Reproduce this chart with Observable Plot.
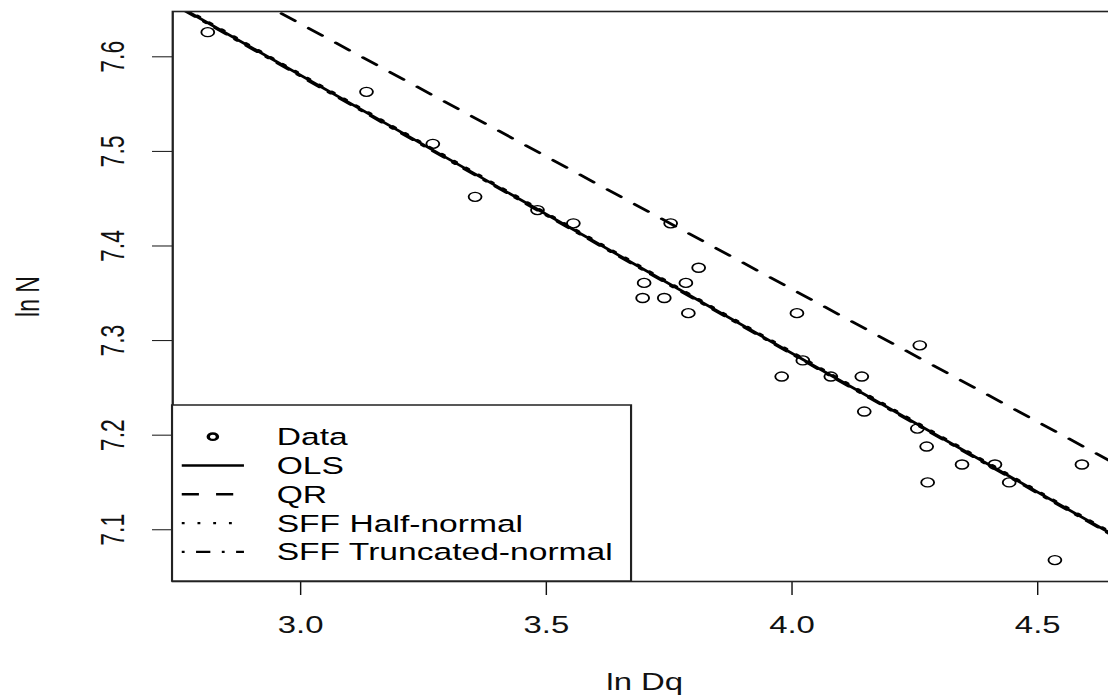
<!DOCTYPE html>
<html><head><meta charset="utf-8">
<script src="https://cdn.jsdelivr.net/npm/d3@7"></script>
<script src="https://cdn.jsdelivr.net/npm/@observablehq/plot@0.6"></script>
<style>html,body{margin:0;padding:0;overflow:hidden;background:#fff}</style>
</head><body><div id="chart"></div>
<script>
// ---- data ----
const lnDq = [2.811, 3.134, 3.269, 3.355, 3.482, 3.555, 3.753, 3.699, 3.696, 3.740, 3.784, 3.789, 3.810, 4.010,
              4.022, 3.979, 4.079, 4.142, 4.147, 4.260, 4.255, 4.274, 4.276, 4.346, 4.413, 4.442, 4.590, 4.535];
const lnN  = [7.626, 7.563, 7.508, 7.452, 7.438, 7.424, 7.424, 7.361, 7.345, 7.345, 7.361, 7.329, 7.377, 7.329,
              7.279, 7.262, 7.262, 7.262, 7.225, 7.295, 7.207, 7.188, 7.150, 7.169, 7.169, 7.150, 7.169, 7.068];
const modelNames = ["OLS", "QR", "SFF Half-normal", "SFF Truncated-normal"];
const intercepts = [8.4618, 8.4763, 8.4630, 8.4608];
const slopes     = [-0.2938, -0.2805, -0.2938, -0.2938];
const modelDash  = ["none", "12,12", "2,9", "2,8,10,8"];
const xTicks = [3.0, 3.5, 4.0, 4.5];
const yTicks = [7.1, 7.2, 7.3, 7.4, 7.5, 7.6];
const legendLabels = ["Data", "OLS", "QR", "SFF Half-normal", "SFF Truncated-normal"];

// ---- layout ----
const S = 1.43;            // horizontal stretch of the reference image
const W = 784, H = 700;
const mL = 120.3, mR = W - 780.4, mT = 11, mB = 119;
const xDomain = [2.7397, 4.6607];
const yDomain = [7.0453, 7.6479];
const FONT = "'Liberation Sans', Arial, Helvetica, sans-serif";

const points = lnDq.map((x, i) => ({x, y: lnN[i]}));
const lineData = modelNames.map((m, i) =>
  xDomain.map(x => ({x, y: intercepts[i] + slopes[i] * x}))
);

function legendMark() {
  const g = d3.create("svg:g").attr("font-family", FONT).attr("font-size", 23.5).attr("text-anchor", "start");
  const left = mL, bottom = H - mB, top = 405, right = 441.3;
  g.append("rect").attr("x", left).attr("y", top).attr("width", right - left).attr("height", bottom - top)
    .attr("fill", "white").attr("stroke", "#222").attr("stroke-width", 1.5);
  const rowY = i => 436.7 + i * 28.8;
  const x1 = 127.1, x2 = 170.6, tx = 193.5;
  legendLabels.forEach((lab, i) => {
    const y = rowY(i);
    if (i === 0) {
      g.append("circle").attr("cx", (x1 + x2) / 2).attr("cy", y).attr("r", 3.2)
        .attr("fill", "none").attr("stroke", "black").attr("stroke-width", 2.4);
    } else {
      g.append("line").attr("x1", x1).attr("x2", x2).attr("y1", y).attr("y2", y)
        .attr("stroke", "black").attr("stroke-width", 2.4)
        .attr("stroke-dasharray", modelDash[i - 1] === "none" ? null : modelDash[i - 1]);
    }
    g.append("text").attr("x", tx).attr("y", y).attr("dy", "0.36em").attr("fill", "#000").text(lab);
  });
  return g.node();
}

const svg = Plot.plot({
  width: W, height: H,
  marginLeft: mL, marginRight: mR, marginTop: mT, marginBottom: mB,
  style: {fontFamily: FONT, fontSize: "23px", background: "white", color: "#111"},
  x: {domain: xDomain},
  y: {domain: yDomain},
  marks: [
    Plot.axisX({ticks: xTicks, tickSize: 14, tickPadding: 21, tickFormat: d3.format(".1f"),
      label: "ln Dq", labelAnchor: "center", labelOffset: 108, labelArrow: "none"}),
    Plot.axisY({ticks: yTicks, tickSize: 14, tickPadding: 20, tickRotate: -90, tickFormat: d3.format(".1f"),
      label: "ln N", labelAnchor: "center", labelOffset: 110, labelArrow: "none"}),
    ...lineData.map((d, i) => Plot.line(d, {x: "x", y: "y", stroke: "black", strokeWidth: 2.5,
      strokeDasharray: modelDash[i] === "none" ? undefined : modelDash[i], clip: true})),
    Plot.dot(points, {x: "x", y: "y", r: 4.5, stroke: "black", strokeWidth: 1.3, fill: "none"}),
    Plot.frame({stroke: "#222", strokeWidth: 1.6}),
    legendMark
  ]
});
svg.setAttribute("viewBox", `0 0 ${W} ${H}`);
svg.setAttribute("preserveAspectRatio", "none");
svg.setAttribute("width", W * S);
svg.setAttribute("height", H);
svg.style.width = (W * S) + "px";
svg.style.height = H + "px";
svg.style.maxWidth = "none";
document.getElementById("chart").appendChild(svg);
</script>
</body></html>
